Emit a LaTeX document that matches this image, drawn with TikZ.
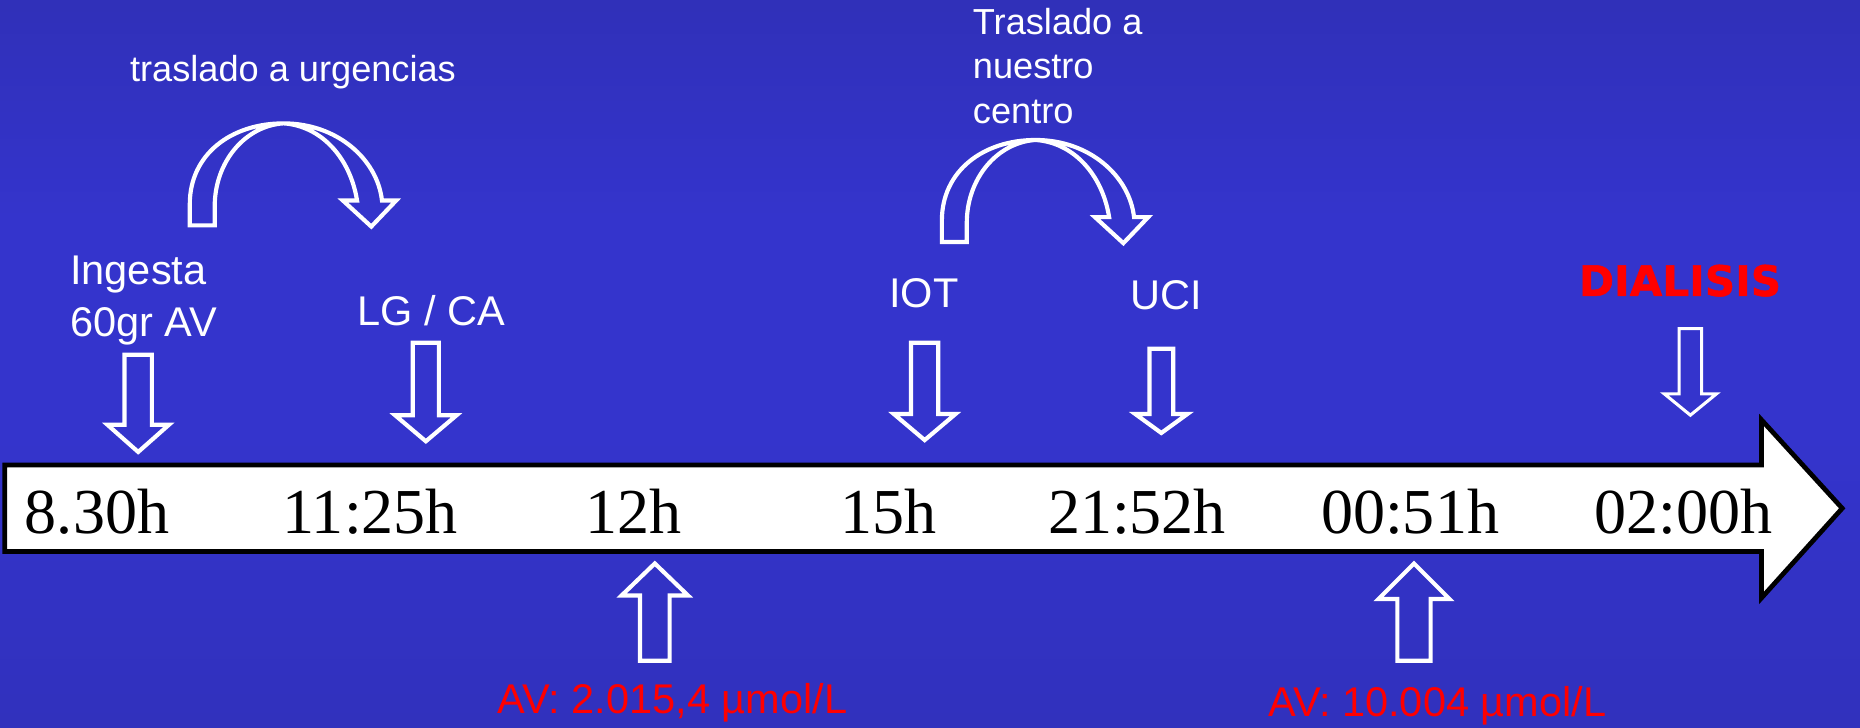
\documentclass[tikz,border=0pt]{standalone}
\usepackage{fontspec}
\setmainfont{Liberation Sans}
\newfontfamily\timesf{Liberation Serif}
\newfontfamily\diafont{DejaVu Sans}[BoldFeatures={FakeBold=1.2}]
\definecolor{bgtop}{RGB}{41,41,152}
\definecolor{bgmid}{RGB}{52,52,204}
\definecolor{bgbot}{RGB}{43,43,162}
\definecolor{redtxt}{RGB}{255,0,0}
\pgfdeclareverticalshading{bgshade}{100bp}{color(0bp)=(bgbot); color(12bp)=(bgbot!60!bgmid); color(45bp)=(bgmid); color(60bp)=(bgmid); color(100bp)=(bgtop)}
\tikzset{
  blockarr/.style={draw=white, line width=3.5pt, line join=miter},
  curvarr/.style={draw=white, line width=3.5pt, line join=miter},
  timeline/.style={draw=black, fill=white, line width=4pt, line join=miter},
  timelab/.style={anchor=base, inner sep=0pt, text=black, font=\timesf\fontsize{54}{54}\selectfont},
  biglab/.style={text=white, inner sep=0pt, anchor=base west, align=left, font=\fontsize{35}{44}\selectfont},
  smalllab/.style={text=white, inner sep=0pt, align=left, font=\fontsize{30.5}{37.5}\selectfont},
  redlab/.style={text=redtxt, inner sep=0pt, anchor=base, font=\fontsize{35}{40}\selectfont},
  dialab/.style={text=redtxt, inner sep=0pt, anchor=base west, font=\diafont\bfseries\fontsize{35.5}{40}\selectfont}
}
% block arrow: cx, base y, wing y, tip y, shaft half width, wing half width
\newcommand{\BlockArr}[6]{%
  \draw[blockarr] (#1-#5,#2) -- (#1+#5,#2) -- (#1+#5,#3) -- (#1+#6,#3) -- (#1,#4)
     -- (#1-#6,#3) -- (#1-#5,#3) -- cycle;}
\newcommand{\CurvArr}{%
  \draw[curvarr] (160,190) -- (160,172) .. controls (160,130) and (195,104) .. (239,104)
     .. controls (284,104) and (318,134) .. (322,169) -- (334,169) -- (313,191) -- (289,169)
     -- (301,169) .. controls (295,132) and (270,106) .. (239,104)
     .. controls (207,106) and (181,136) .. (181,174) -- (181,190) -- cycle;}
\begin{document}
\begin{tikzpicture}[x=1pt,y=-1pt]
\useasboundingbox (0,0) rectangle (1568,613);
\shade[shading=bgshade] (0,0) rectangle (1568,613);

% timeline
\draw[timeline] (4,392) -- (1485,392) -- (1485,354) -- (1553,428.5) -- (1485,504)
   -- (1485,465) -- (4,465) -- cycle;
\node[timelab] (t1) at (81.8,450) {8.30h};
\node[timelab] (t2) at (312,450) {11:25h};
\node[timelab] (t3) at (533.8,450) {12h};
\node[timelab] (t4) at (749,450) {15h};
\node[timelab] (t5) at (958.5,450) {21:52h};
\node[timelab] (t6) at (1188.7,450) {00:51h};
\node[timelab] (t7) at (1419,450) {02:00h};

% down arrows
\BlockArr{116.5}{299}{358}{381}{11.5}{26}
\BlockArr{359}{289}{350}{372}{11}{26}
\BlockArr{779.5}{289}{349}{371}{11.5}{26}
\BlockArr{979}{294}{349}{365}{10}{22}
\begin{scope}[blockarr/.append style={line width=2.6pt}]
\BlockArr{1425}{277}{332}{350}{9.5}{22}
\end{scope}
% up arrows
\BlockArr{552}{557}{502}{475}{12.5}{28}
\BlockArr{1192}{557}{505}{475}{14}{30}

% curved arrows
\CurvArr
\begin{scope}[shift={(634,14)}]
\CurvArr
\end{scope}

% labels
\node[smalllab, anchor=base] (urg) at (247,69) {traslado a urgencias};
\node[smalllab, anchor=base west] (tras) at (820,104) {Traslado a\\nuestro\\centro};
\node[biglab] (ing) at (59,284) {Ingesta\\60gr AV};
\node[biglab] (lg) at (301,274) {LG / CA};
\node[biglab] (iot) at (749.5,259) {IOT};
\node[biglab] (uci) at (953,261) {UCI};
\node[dialab] (dia) at (1331,249.5) {DIALISIS};
\node[redlab] (av1) at (567,601.5) {AV: 2.015,4 µmol/L};
\node[redlab] (av2) at (1211.7,604.3) {AV: 10.004 µmol/L};
\end{tikzpicture}
\end{document}
